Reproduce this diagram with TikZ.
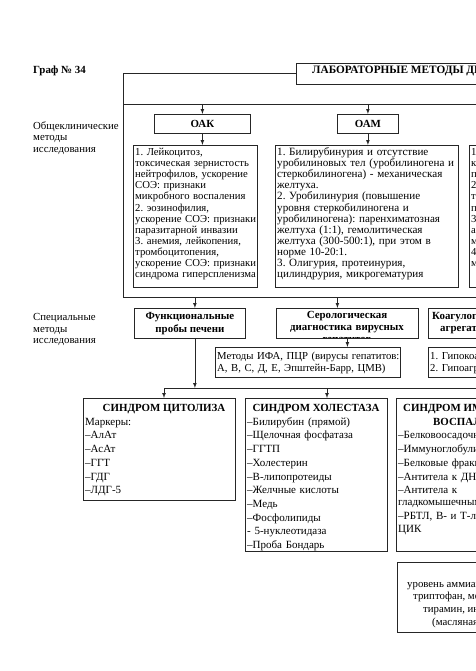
\documentclass[tikz,border=0pt]{standalone}
\usepackage{fontspec}
\setmainfont{Liberation Serif}
\usetikzlibrary{arrows}
\usetikzlibrary{positioning}
\frenchspacing

\tikzset{
  frame/.style={draw=black!85, line width=0.8pt, inner sep=0pt, anchor=north west},
  head/.style={font=\bfseries\fontsize{10.9}{12.5}\selectfont, inner sep=0pt},
  body/.style={anchor=base west, inner sep=0pt, align=left, font=\fontsize{10.7}{11.1}\selectfont},
  note/.style={anchor=base west, inner sep=0pt, align=left, font=\fontsize{10.7}{11.5}\selectfont},
  list/.style={anchor=base west, inner sep=0pt, align=left, font=\fontsize{11}{13.7}\selectfont},
  side/.style={anchor=base west, inner sep=0pt, align=left, text width=100, font=\fontsize{10.8}{11.5}\selectfont},
  conn/.style={black!85, line width=0.8pt},
  arr/.style={-latex, black!85, line width=0.7pt},
}

\begin{document}
\begin{tikzpicture}[x=1pt, y=-1pt]
    \useasboundingbox (0,0) rectangle (475,671);
    % Title and banner
    \node[head, anchor=base west] (graf) at (33,74) {Граф № 34};
    \node[frame, minimum width=220, minimum height=21] (lab) at (296,63) {};
    \node[head, anchor=base west, font=\bfseries\fontsize{11.3}{12.5}\selectfont] (labtxt) at (312,74) {ЛАБОРАТОРНЫЕ МЕТОДЫ ДИАГНОСТИКИ};

    % General clinical methods
    \node[side] (obshlbl) at (33,129.5) {Общеклинические\\методы\\исследования};
    \node[frame, minimum width=365, minimum height=193] (obsh) at (123,104) {};
    \draw[conn] (lab.west) -| (obsh.north west);

    \node[frame, head, minimum width=96, minimum height=19] (oak) at (154,114) {ОАК};
    \node[frame, head, minimum width=61, minimum height=19] (oam) at (337,114) {ОАМ};
    \draw[arr] (oak.north |- obsh.north) -- (oak.north);
    \draw[arr] (oam.north |- obsh.north) -- (oam.north);

    \node[frame, minimum width=124, minimum height=142] (oakbox) at (133,145) {};
    \node[body, text width=150] (oaktxt) at (135,155.5) {1. Лейкоцитоз,\\токсическая зернистость\\нейтрофилов, ускорение\\СОЭ: признаки\\микробного воспаления\\2. эозинофилия,\\ускорение СОЭ: признаки\\паразитарной инвазии\\3. анемия, лейкопения,\\тромбоцитопения,\\ускорение СОЭ: признаки\\синдрома гиперспленизма};
    \draw[arr] (oak.south) -- (oak.south |- oakbox.north);

    \node[frame, minimum width=183, minimum height=142] (oambox) at (275,145) {};
    \node[body, text width=220, font=\fontsize{11.1}{11.1}\selectfont] (oamtxt) at (277,155.5) {1. Билирубинурия и отсутствие\\уробилиновых тел (уробилиногена и\\стеркобилиногена) - механическая\\желтуха.\\2. Уробилинурия (повышение\\уровня стеркобилиногена и\\уробилиногена): паренхиматозная\\желтуха (1:1), гемолитическая\\желтуха (300-500:1), при этом в\\норме 10-20:1.\\3. Олигурия, протеинурия,\\цилиндрурия, микрогематурия};
    \draw[arr] (oam.south) -- (oam.south |- oambox.north);

    \node[frame, minimum width=60, minimum height=142] (bakbox) at (469,145) {};
    \node[body, text width=40] (baktxt) at (471,155.5) {1.\\к\\п\\2.\\т\\п\\3.\\а\\м\\4.\\м};

    % Special methods
    \node[side] (speclbl) at (33,320.5) {Специальные\\методы\\исследования};
    \node[frame, head, align=center, minimum width=111, minimum height=30] (fpp) at (134,308) {Функциональные\\пробы печени};
    \begin{scope}
        \clip (276,308) rectangle (418,338.3);
        \node[head, anchor=base, text width=142, align=center, font=\bfseries\fontsize{10.9}{12}\selectfont] (serotxt) at (347,318.5) {Серологическая\\диагностика вирусных\\гепатитов};
    \end{scope}
    \node[frame, minimum width=142, minimum height=30] (sero) at (276,308) {};
    \node[frame, minimum width=80, minimum height=30] (koag) at (428,308) {};
    \node[head, anchor=base west] (koagtxt) at (432,319) {Коагулограмма,};
    \node[head, anchor=base west] (agrtxt) at (440,331) {агрегатограмма};

    \coordinate (fppin) at ([xshift=5pt]fpp.north);
    \coordinate (seroin) at ([xshift=-10pt]sero.north);
    \draw[arr] (fppin |- obsh.south) -- (fppin);
    \draw[arr] (seroin |- obsh.south) -- (seroin);

    \node[frame, minimum width=185, minimum height=30] (ifa) at (215,347) {};
    \node[note, text width=200] (ifatxt) at (217,359.5) {Методы ИФА, ПЦР (вирусы гепатитов:\\А, В, С, Д, Е, Эпштейн-Барр, ЦМВ)};
    \draw[arr] (sero.south) -- (sero.south |- ifa.north);

    \node[frame, minimum width=80, minimum height=30] (gipo) at (428,347) {};
    \node[note, text width=120] (gipotxt) at (430,359.5) {1. Гипокоагуляция\\2. Гипоагрегация};

    % Syndromes
    \coordinate (fppout) at ([xshift=5pt]fpp.south);
    \coordinate (bus) at (164,388);
    \coordinate (busmid) at (327,388);
    \coordinate (busend) at (480,388);
    \draw[arr] (fppout) -- (fppout |- bus);
    \draw[conn] (bus) -- (busend);

    \node[frame, minimum width=152, minimum height=102] (cyt) at (83,398) {};
    \node[head, anchor=base] (cythead) at (164,411.5) {СИНДРОМ ЦИТОЛИЗА};
    \node[list, text width=148] (cytlist) at (85,425.2) {Маркеры:\\–АлАт\\–АсАт\\–ГГТ\\–ГДГ\\–ЛДГ-5};
    \draw[arr] (bus) -- (bus |- cyt.north);

    \node[frame, minimum width=142, minimum height=153] (hol) at (245,398) {};
    \node[head, anchor=base] (holhead) at (316,411.5) {СИНДРОМ ХОЛЕСТАЗА};
    \node[list, text width=160] (hollist) at (247,425.2) {–Билирубин (прямой)\\–Щелочная фосфатаза\\–ГГТП\\–Холестерин\\–В-липопротеиды\\–Желчные кислоты\\–Медь\\–Фосфолипиды\\- 5-нуклеотидаза\\–Проба Бондарь};
    \draw[arr] (busmid) -- (busmid |- hol.north);

    \node[frame, minimum width=160, minimum height=153] (imm) at (396,398) {};
    \node[head, anchor=base west] (immhead) at (403,411.5) {СИНДРОМ ИММУННОГО};
    \node[head, anchor=base west] (immhead2) at (433,425.2) {ВОСПАЛЕНИЯ};
    \node[list, text width=180] (immlist) at (398,438.9) {–Белковоосадочные пробы\\–Иммуноглобулины\\–Белковые фракции\\–Антитела к ДНК\\–Антитела к\\[-1.5pt]гладкомышечным клеткам\\–РБТЛ, В- и Т-лимфоциты,\\[-1pt]ЦИК};

    \node[frame, minimum width=160, minimum height=70] (amm) at (397,562) {};
    \node[anchor=base west, inner sep=0pt, font=\fontsize{10.8}{13}\selectfont] (amm1) at (407,587) {уровень аммиака,};
    \node[anchor=base west, inner sep=0pt, font=\fontsize{10.8}{13}\selectfont] (amm2) at (413,599.8) {триптофан, метионин,};
    \node[anchor=base west, inner sep=0pt, font=\fontsize{10.8}{13}\selectfont] (amm3) at (423,612.6) {тирамин, индол,};
    \node[anchor=base west, inner sep=0pt, font=\fontsize{10.8}{13}\selectfont] (amm4) at (432,625.4) {(масляная кислота)};
\end{tikzpicture}
\end{document}
